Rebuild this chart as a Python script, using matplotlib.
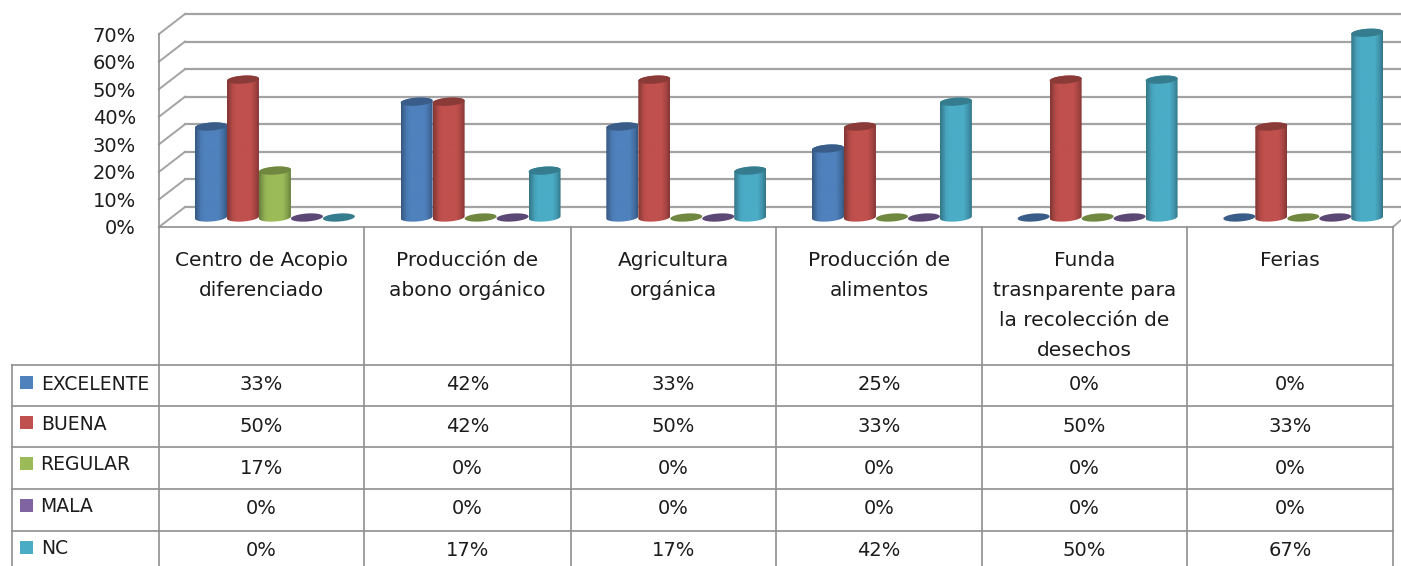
import numpy as np
import matplotlib
matplotlib.use('Agg')
import matplotlib.pyplot as plt
from matplotlib.colors import LinearSegmentedColormap, to_rgb
from matplotlib.patches import Polygon, Rectangle

categories = ['Centro de Acopio\ndiferenciado', 'Producción de\nabono orgánico', 'Agricultura\norgánica',
              'Producción de\nalimentos', 'Funda\ntrasnparente para\nla recolección de\ndesechos', 'Ferias']
series_names = ['EXCELENTE', 'BUENA', 'REGULAR', 'MALA', 'NC']
excelente = [33, 42, 33, 25, 0, 0]
buena = [50, 42, 50, 33, 50, 33]
regular = [17, 0, 0, 0, 0, 0]
mala = [0, 0, 0, 0, 0, 0]
nc = [0, 17, 17, 42, 50, 67]
series_values = [excelente, buena, regular, mala, nc]
series_colors = ['#4F81BD', '#C0504D', '#9BBB59', '#8064A2', '#4BACC6']
y_ticks = [0, 10, 20, 30, 40, 50, 60, 70]

W, H = 1401, 566
plt.rcParams['font.family'] = ['DejaVu Sans']
line_col = '#8f8f8f'
text_col = '#1c1c1c'
fs = 14

fig = plt.figure(figsize=(W / 100, H / 100), dpi=100)

# background axes in pixels, for the walls and the table grid
bg = fig.add_axes([0, 0, 1, 1])
bg.set_xlim(0, W)
bg.set_ylim(H, 0)
bg.axis('off')

col_x = [159, 364, 571, 776, 982, 1187, 1393]
row_y = [365, 406, 447, 489, 531]
row_mid = [385, 426, 468, 509, 550]
px_per_pct = 2.757

# back wall and side wall
for v in y_ticks:
    yb = 207 - v * px_per_pct
    yf = 227 - v * px_per_pct
    bg.plot([185, W], [yb, yb], color='#a3a3a3', lw=1.6, zorder=1)
    bg.plot([159, 185], [yf, yb], color='#a3a3a3', lw=1.4, zorder=1)
bg.plot([1393, W], [227, 220], color='#a3a3a3', lw=1.3, zorder=1)

# table lines
for x in col_x:
    bg.plot([x, x], [227, H], color=line_col, lw=1.2, zorder=1)
bg.plot([159, 159], [34, 227], color=line_col, lw=1.2, zorder=1)
bg.plot([12, 12], [365, H], color=line_col, lw=1.2, zorder=1)
bg.plot([159, 1393], [227, 227], color=line_col, lw=1.2, zorder=1)
for y in row_y:
    bg.plot([12, 1393], [y, y], color=line_col, lw=1.2, zorder=1)

# y labels
for v in y_ticks:
    bg.text(136, 229 - v * px_per_pct, '%d%%' % v, ha='right', va='center',
            fontsize=fs, color=text_col)

# category labels
for i, cat in enumerate(categories):
    xc = (col_x[i] + col_x[i + 1]) / 2
    for j, part in enumerate(cat.split('\n')):
        bg.text(xc, 260 + j * 30.3, part, ha='center', va='center', fontsize=fs + 0.5, color=text_col)

# legend keys and table values
legend_y = [384, 424, 465, 507, 549]
legend_x = [41, 41, 40, 40, 41]
for s, name in enumerate(series_names):
    bg.add_patch(Rectangle((20, legend_y[s] - 8), 13, 13, color=series_colors[s], lw=0, zorder=2))
    bg.text(legend_x[s], legend_y[s], name, ha='left', va='center', fontsize=fs - 0.5, color=text_col)
    for i, val in enumerate(series_values[s]):
        xc = (col_x[i] + col_x[i + 1]) / 2
        bg.text(xc, row_mid[s], '%d%%' % val, ha='center', va='center', fontsize=fs, color=text_col)

# chart axes: x in categories, y in percent, with a margin below 0 and above 70
y_lo, y_hi = -5, 75
ax_bottom_px = 217.5 - y_lo * px_per_pct
ax_height_px = (y_hi - y_lo) * px_per_pct
ax = fig.add_axes([159 / W, 1 - ax_bottom_px / H, (1393 - 159) / W, ax_height_px / H])
ax.patch.set_alpha(0)
ax.axis('off')

bar_w = 0.1555
first_off = 0.175
semi_h = 1.45
tilt = 0.4


def shade(col, f):
    return tuple(c * f for c in to_rgb(col))


def ellipse_pts(x0, y0):
    t = np.linspace(0, 2 * np.pi, 60)
    return np.column_stack([x0 + bar_w / 2 * np.cos(t), y0 + semi_h * np.sin(t) + tilt * np.cos(t)])


def cylinder(x_left, val, col):
    xc = x_left + bar_w / 2
    if val > 0:
        cmap = LinearSegmentedColormap.from_list('c', [(0, shade(col, 0.68)), (0.18, shade(col, 0.95)), (0.3, col),
                                                      (0.75, col), (0.9, shade(col, 0.85)), (1, shade(col, 0.68))])
        grad = np.linspace(0, 1, 64).reshape(1, -1)
        im = ax.imshow(grad, cmap=cmap, extent=[x_left, x_left + bar_w, -3, val + 3],
                       aspect='auto', zorder=3, interpolation='bilinear')
        t = np.linspace(np.pi, 2 * np.pi, 30)
        low = np.column_stack([xc + bar_w / 2 * np.cos(t), semi_h * np.sin(t) + tilt * np.cos(t)])
        t2 = np.linspace(0, np.pi, 30)
        up = np.column_stack([xc + bar_w / 2 * np.cos(t2), val + semi_h * np.sin(t2) + tilt * np.cos(t2)])
        body = Polygon(np.vstack([low, up]), closed=True, transform=ax.transData, fc='none', ec='none')
        ax.add_patch(body)
        im.set_clip_path(body)
    ax.add_patch(Polygon(ellipse_pts(xc, val), closed=True, fc=shade(col, 0.72), ec='none', zorder=4))


for s, vals in enumerate(series_values):
    for i, v in enumerate(vals):
        cylinder(i + first_off + s * bar_w, v, series_colors[s])

ax.set_xlim(0, 6)
ax.set_ylim(y_lo, y_hi)

fig.savefig('out.png', dpi=100)
